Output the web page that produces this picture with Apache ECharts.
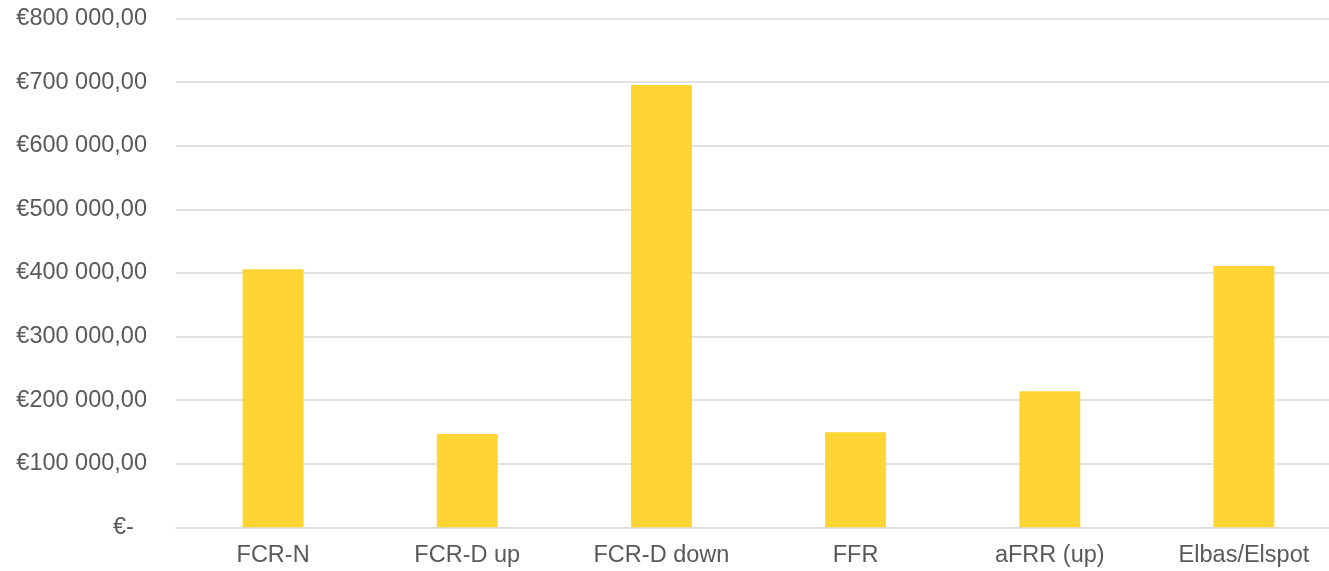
<!DOCTYPE html>
<html>
<head>
<meta charset="utf-8">
<script src="https://cdn.jsdelivr.net/npm/echarts@6/dist/echarts.min.js"></script>
<style>
  html, body { margin: 0; padding: 0; background: #ffffff; overflow: hidden; }
  /* the source chart is cut off a little on the right, so the canvas is wider than the window */
  #chart { width: 1341px; height: 571px; }
</style>
</head>
<body>
<div id="chart"></div>
<script>
const categories = ['FCR-N', 'FCR-D up', 'FCR-D down', 'FFR', 'aFRR (up)', 'Elbas/Elspot'];
const revenue = [405700, 146700, 695400, 149400, 213800, 410800];

// accounting style: €700 000,00 and €- for zero
const euro = v => {
  if (v === 0) return '€-  ';
  const whole = Math.round(v).toString().replace(/\B(?=(\d{3})+(?!\d))/g, ' ');
  return '€' + whole + ',00';
};

const chart = echarts.init(document.getElementById('chart'));

chart.setOption({
  backgroundColor: '#ffffff',
  animation: false,
  textStyle: { fontFamily: 'Liberation Sans, Arial, sans-serif' },
  grid: { left: 176, right: 0, top: 18.5, bottom: 43.7 },
  xAxis: {
    type: 'category',
    data: categories,
    axisTick: { show: false },
    axisLine: { lineStyle: { color: '#d9d9d9', width: 1.5 } },
    axisLabel: { color: '#595959', fontSize: 23.5, margin: 16 }
  },
  yAxis: {
    type: 'value',
    min: 0,
    max: 800000,
    interval: 100000,
    axisLine: { show: false },
    axisTick: { show: false },
    splitLine: { lineStyle: { color: '#d9d9d9', width: 1.5 } },
    axisLabel: { color: '#595959', fontSize: 23.5, margin: 29, formatter: euro }
  },
  series: [
    {
      name: 'Revenue',
      type: 'bar',
      data: revenue,
      barWidth: '31.4%',
      itemStyle: { color: '#FFD533' }
    }
  ]
});
</script>
</body>
</html>
